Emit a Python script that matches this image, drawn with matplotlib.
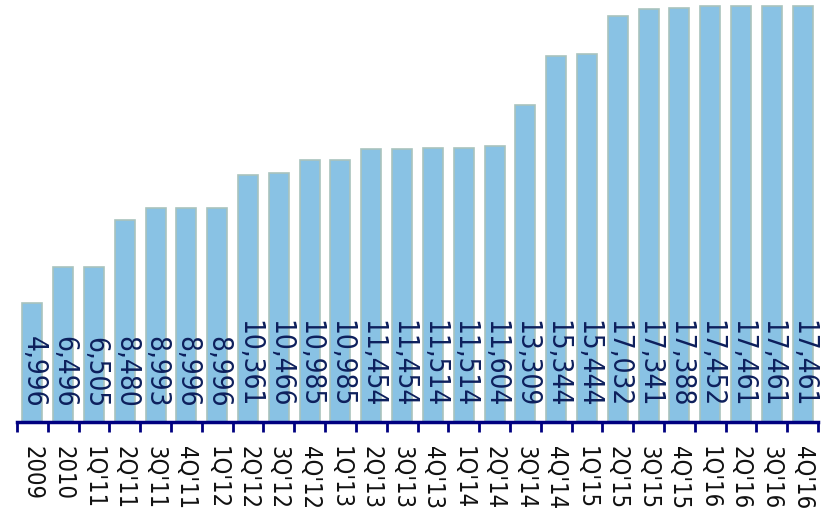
import matplotlib
matplotlib.use("Agg")
import matplotlib.pyplot as plt
import numpy as np

categories = ["2009", "2010", "1Q'11", "2Q'11", "3Q'11", "4Q'11", "1Q'12", "2Q'12", "3Q'12",
              "4Q'12", "1Q'13", "2Q'13", "3Q'13", "4Q'13", "1Q'14", "2Q'14", "3Q'14", "4Q'14",
              "1Q'15", "2Q'15", "3Q'15", "4Q'15", "1Q'16", "2Q'16", "3Q'16", "4Q'16"]
values = [4996, 6496, 6505, 8480, 8993, 8996, 8996, 10361, 10466, 10985, 10985, 11454, 11454,
          11514, 11514, 11604, 13309, 15344, 15444, 17032, 17341, 17388, 17452, 17461, 17461, 17461]

fig = plt.figure(figsize=(8.23, 5.09), dpi=100)
ax = fig.add_axes([17 / 823, 1 - 422 / 509, 801 / 823, 422 / 509])

x = np.arange(len(categories))
ax.bar(x, values, width=0.65, color="#89c2e4", edgecolor="#a9c3bd", linewidth=1.2)

# value labels inside bars, reading downwards
for xi, v in zip(x, values):
    ax.text(xi + 0.03, 600, f"{v:,}", rotation=270, ha="center", va="bottom",
            fontsize=20, color="#0d1f5c", family="DejaVu Sans", fontstretch="condensed")

ax.set_xlim(-0.5, len(categories) - 0.5)
ax.set_ylim(0, 17461 * 422 / 416)

for s in ["top", "right", "left"]:
    ax.spines[s].set_visible(False)
ax.spines["bottom"].set_color("#000080")
ax.spines["bottom"].set_linewidth(2.5)
ax.set_yticks([])

ax.set_xticks(np.arange(len(categories) + 1) - 0.5)
ax.set_xticklabels([])
ax.tick_params(axis="x", which="major", length=7, width=2, color="#000080", direction="out")
ax.set_xticks(x, minor=True)
ax.set_xticklabels(categories, minor=True, rotation=270, fontsize=17, color="#111111",
                   family="DejaVu Sans", fontstretch="condensed")
ax.tick_params(axis="x", which="minor", length=0, pad=17)
for lbl in ax.get_xticklabels(minor=True):
    lbl.set_va("top")

fig.savefig("out.png", dpi=100)
